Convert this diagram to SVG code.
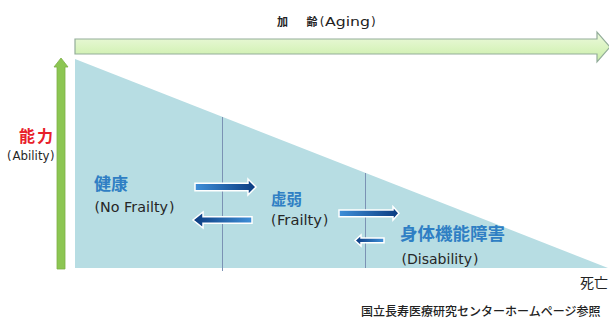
<svg xmlns="http://www.w3.org/2000/svg" width="609" height="320" viewBox="0 0 609 320">
<defs>
<linearGradient id="gTop" x1="0" y1="0" x2="0" y2="1">
<stop offset="0" stop-color="#eefadf"/>
<stop offset="1" stop-color="#c9eea6"/>
</linearGradient>
<linearGradient id="gR" x1="0" y1="0" x2="1" y2="0">
<stop offset="0" stop-color="#3f8fd8"/>
<stop offset="1" stop-color="#0b3b80"/>
</linearGradient>
<linearGradient id="gL" x1="1" y1="0" x2="0" y2="0">
<stop offset="0" stop-color="#3f8fd8"/>
<stop offset="1" stop-color="#0b3b80"/>
</linearGradient>
<style>
.jp{font-family:"Noto Sans CJK JP","Noto Sans",sans-serif}
.lat{font-family:"DejaVu Sans","Noto Sans CJK JP",sans-serif}
.blue{fill:#2f7fc4;font-weight:bold}
.sub{fill:#262626}
.flow{stroke:#ffffff;stroke-width:1.5;stroke-linejoin:miter}
.div{stroke:#7b92b4;stroke-width:1;fill:none}
</style>
</defs>
<rect width="609" height="320" fill="#ffffff"/>
<g id="ability-area">
<polygon points="75,59 608,268 75,268" fill="#b7dde3"/>
<line class="div" x1="222.5" y1="117" x2="222.5" y2="271"/>
<line class="div" x1="365.5" y1="173" x2="365.5" y2="268"/>
</g>
<g id="aging-axis">
<polygon points="75,39 597,39 597,32 610,47 597,62 597,54 75,54" fill="url(#gTop)" stroke="#93ad9a" stroke-width="1.2"/>
<text class="jp" font-size="11" fill="#222" y="26"><tspan x="277" font-weight="bold">加</tspan><tspan x="306.5" font-weight="bold">齢</tspan><tspan class="lat" font-size="12" x="319.7">(</tspan><tspan class="lat" x="325" font-size="12" textLength="45" lengthAdjust="spacingAndGlyphs">Aging</tspan><tspan class="lat" font-size="12" x="371">)</tspan></text>
</g>
<g id="ability-axis">
<polygon points="57,269 57,67 54,67 61,58 68,67 65,67 65,269" fill="#8cc652" stroke="#7db048" stroke-width="0.8"/>
<text class="jp" x="19" y="142" font-size="16" font-weight="bold" fill="#e8202a" letter-spacing="2">能力</text>
<text class="lat sub" font-size="11.5" y="160"><tspan x="7">(</tspan><tspan x="12.5" textLength="37" lengthAdjust="spacingAndGlyphs">Ability</tspan><tspan x="50">)</tspan></text>
</g>
<g id="node-healthy">
<text class="jp blue" x="94" y="190" font-size="17">健康</text>
<text class="lat sub" font-size="14" y="212"><tspan x="94.5">(</tspan><tspan x="100" textLength="68" lengthAdjust="spacingAndGlyphs">No Frailty</tspan><tspan x="169">)</tspan></text>
</g>
<g id="node-frailty">
<text class="jp blue" x="271" y="205" font-size="15.5">虚弱</text>
<text class="lat sub" font-size="13.5" y="225"><tspan x="271">(</tspan><tspan x="277" textLength="45" lengthAdjust="spacingAndGlyphs">Frailty</tspan><tspan x="323">)</tspan></text>
</g>
<g id="node-disability">
<text class="jp blue" x="400" y="240" font-size="17.5">身体機能障害</text>
<text class="lat sub" font-size="14" y="264"><tspan x="401.5">(</tspan><tspan x="407" textLength="65" lengthAdjust="spacingAndGlyphs">Disability</tspan><tspan x="473">)</tspan></text>
</g>
<g id="connectors">
<polygon class="flow" points="195,183.3 248,183.3 248,179 256,187 248,195 248,190.7 195,190.7" fill="url(#gR)"/>
<polygon class="flow" points="252,216.7 203,216.7 203,212 193,220 203,228 203,223.3 252,223.3" fill="url(#gL)"/>
<polygon class="flow" points="339,210 393,210 393,206.7 399,213.3 393,220 393,216.7 339,216.7" fill="url(#gR)"/>
<polygon class="flow" points="384,238 361,238 361,235 355,240.5 361,246 361,242.7 384,242.7" fill="url(#gL)"/>
</g>
<g id="labels">
<text class="jp" x="580" y="288" font-size="14" fill="#222">死亡</text>
<text class="jp" x="361" y="316" font-size="12" font-weight="500" fill="#222">国立長寿医療研究センターホームページ参照</text>
</g>
</svg>
